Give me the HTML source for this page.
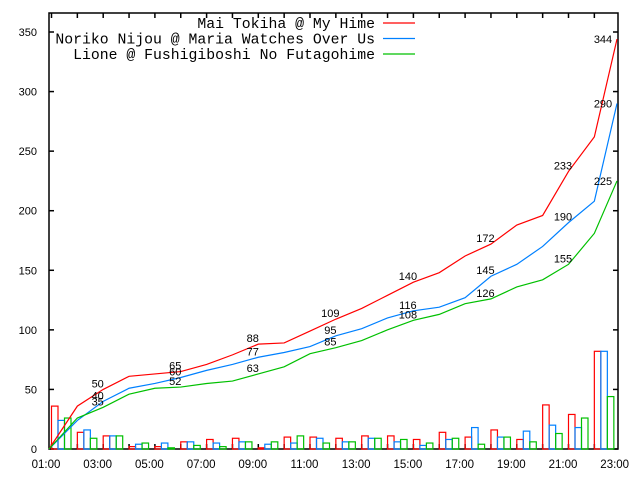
<!DOCTYPE html>
<html><head><meta charset="utf-8"><style>
html,body{margin:0;padding:0;background:#fff;}
svg{display:block;}
</style></head><body>
<svg id="chart" width="640" height="480" xmlns="http://www.w3.org/2000/svg" font-family="Liberation Sans, sans-serif">
<g id="axes"></g>
<g id="bars"></g>
<g id="lines"></g>
<g id="labels"></g>
<g id="legend"></g>
</svg>
<script>
const seriesNames = ["Mai Tokiha @ My Hime","Noriko Nijou @ Maria Watches Over Us","Lione @ Fushigiboshi No Futagohime"];
const seriesColors = ["#ff0000","#0080ff","#00c000"];
const redCounts   = [36,14,11,2,2,6,8,9,1,10,10,9,11,11,8,14,10,16,8,37,29,82];
const blueCounts  = [24,16,11,4,5,6,5,6,4,5,9,6,9,6,3,8,18,10,15,20,18,82];
const greenCounts = [26,9,11,5,1,3,2,6,6,11,5,6,9,8,5,9,4,10,6,13,26,44];
const xTickLabels = ["01:00","03:00","05:00","07:00","09:00","11:00","13:00","15:00","17:00","19:00","21:00","23:00"];
const yTickValues = [0,50,100,150,200,250,300,350];

const NS="http://www.w3.org/2000/svg";
const L=49,R=618,T=13,B=449;
const yOf=v=>B-v*(417/350);
const binX=k=>51.5+k*25.85;       // start of hourly bin k
const hourX=i=>46+i*25.85;        // position of hour label i (hours after 01:00)
function mk(tag,attrs,parent){const e=document.createElementNS(NS,tag);for(const a in attrs)e.setAttribute(a,attrs[a]);parent.appendChild(e);return e;}

const axes=document.getElementById('axes');
const frame=mk('rect',{x:L,y:T,width:R-L,height:B-T,fill:'none',stroke:'#000','stroke-width':1.5},axes);


yTickValues.forEach(v=>{
  const y=yOf(v);
  const t1=mk('line',{x1:L,x2:L+5,y1:y,y2:y,stroke:'#000','stroke-width':1.5},axes);
  
  
  const t2=mk('line',{x1:R-5,x2:R,y1:y,y2:y,stroke:'#000','stroke-width':1.5},axes);
  
  
  const tx=mk('text',{x:37,y:y+4,'text-anchor':'end','font-size':11},axes);
  tx.textContent=v;
  
  
});
for(let k=0;k<=22;k++){
  const x=binX(k);
  if(x<L||x>R)continue;
  const a=mk('line',{x1:x,x2:x,y1:B,y2:B-5,stroke:'#000','stroke-width':1.5},axes);
  
  
  const b=mk('line',{x1:x,x2:x,y1:T,y2:T+5,stroke:'#000','stroke-width':1.5},axes);
  
  
}
xTickLabels.forEach((s,i)=>{
  const tx=mk('text',{x:hourX(i*2),y:468,'text-anchor':'middle','font-size':11.5},axes);
  tx.textContent=s;
  
  
});

const allCounts=[redCounts,blueCounts,greenCounts];
const bars=document.getElementById('bars');
allCounts.forEach((arr,s)=>{
  arr.forEach((v,k)=>{
    const x=binX(k)+s*6.5;
    const r=mk('rect',{x:x,y:yOf(v),width:6.5,height:B-yOf(v),fill:'none',stroke:seriesColors[s],'stroke-width':1.2},bars);
    
    
  });
});

const lines=document.getElementById('lines');
const labels=document.getElementById('labels');
const labelBins=[1,4,7,10,13,16,19];
allCounts.forEach((arr,s)=>{
  let cum=0;const pts=[[L,yOf(0)]];const cums=[];
  arr.forEach((v,k)=>{cum+=v;cums.push(cum);pts.push([Math.min(binX(k+1),617),yOf(cum)]);});
  const p=mk('polyline',{points:pts.map(p=>p.join(',')).join(' '),fill:'none',stroke:seriesColors[s],'stroke-width':1.2},lines);
  
  
  labelBins.forEach(k=>{
    const t=mk('text',{x:hourX(k+1),y:yOf(cums[k])-2,'text-anchor':'middle','font-size':11},labels);
    t.textContent=cums[k];
    
    
  });
  const tf=mk('text',{x:603,y:yOf(cum)+4,'text-anchor':'middle','font-size':11},labels);
  tf.textContent=cum;
  
  
});

const legend=document.getElementById('legend');
seriesNames.forEach((n,i)=>{
  const y=23+i*15.5;
  const t=mk('text',{x:375,y:y+5,'text-anchor':'end','font-size':14.8,'font-family':'Liberation Mono, monospace'},legend);
  t.textContent=n;
  
  
  const l=mk('line',{x1:383,x2:415,y1:y,y2:y,stroke:seriesColors[i],'stroke-width':1.2},legend);
  
  
});
</script>
</body></html>
